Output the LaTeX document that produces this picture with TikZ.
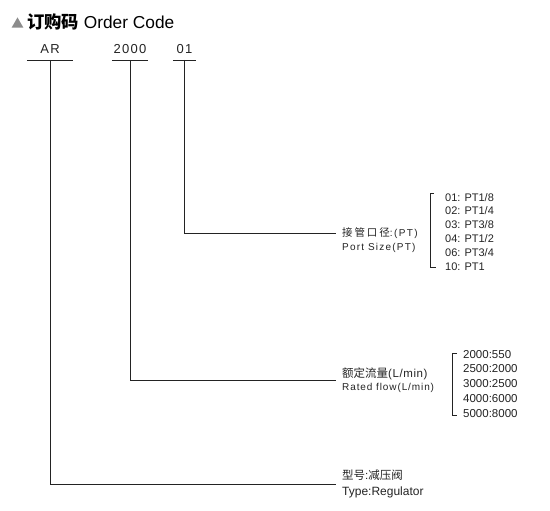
\documentclass[tikz,border=0pt]{standalone}
\usepackage{fontspec}
\setmainfont{Liberation Sans}
\newfontfamily\cjk{Noto Sans CJK SC}
\usetikzlibrary{shapes.geometric,calc}
\definecolor{ACText}{RGB}{35,35,35}
\definecolor{ACGray}{RGB}{140,140,140}
\newcommand\fs[2]{\fontsize{#1}{#2}\selectfont}
\newcommand\lsp[1]{\addfontfeature{LetterSpace=#1}}
\tikzset{
  code/.style={inner xsep=0pt,inner ysep=0pt,text depth=6pt,anchor=south,font=\fs{13}{15}\lsp{10},text=ACText},
  lbl/.style={inner xsep=6pt,inner ysep=0pt,anchor=west,align=left,text=ACText},
  lst/.style={inner sep=0pt,anchor=north west,align=left,text=ACText},
  ln/.style={line width=0.9pt,ACText},
  brk/.style={line width=0.9pt,ACText},
}
\begin{document}
\begin{tikzpicture}[x=1pt,y=-1pt]
  \useasboundingbox (0,0) rectangle (550,511);
  % title
  \node[regular polygon,regular polygon sides=3,fill=ACGray,minimum size=13.5pt,inner sep=0pt] (tri) at (17.5,24.2) {};
  \node[anchor=base west,inner sep=0pt,font=\fs{17.3}{20}] (ttl) at (27,28.5) {{\cjk\bfseries 订购码} Order Code};
  % code parts
  \node[code,minimum width=46pt] (car) at (50,60) {AR};
  \node[code,minimum width=36pt] (c2000) at (130,60) {2000};
  \node[code,minimum width=23pt] (c01) at (184.5,60) {01};
  \draw[ln] (car.south west) -- (car.south east);
  \draw[ln] (c2000.south west) -- (c2000.south east);
  \draw[ln] (c01.south west) -- (c01.south east);
  % labels
  \node[lbl,font=\fs{10}{14}] (ps) at (336,240)
    {{\fs{10.5}{14}\cjk\lsp{18}接管口径}{\lsp{14}:(PT)}\\{\lsp{12}Port Size(PT)}};
  \node[lbl,font=\fs{10}{13.5}] (fw) at (336,380)
    {{\fs{11.5}{13.5}{\cjk 额定流量}{\lsp{5}(L/min)}}\\{\lsp{9}Rated flow(L/min)}};
  \node[lbl,font=\fs{12}{16}] (ty) at (336,484)
    {{\fs{11.5}{16}{\cjk 型号}:{\cjk 减压阀}}\\Type:Regulator};
  % option lists
  \node[lst,font=\fs{11}{13.8}] (pl) at (445,193)
    {01: PT1/8\\02: PT1/4\\03: PT3/8\\04: PT1/2\\06: PT3/4\\10: PT1};
  \node[lst,font=\fs{11.5}{14.75}] (fl) at (463,350)
    {2000:550\\2500:2000\\3000:2500\\4000:6000\\5000:8000};
  \draw[brk] ([xshift=-11pt]pl.north west) -- ([xshift=-15pt]pl.north west)
    -- ([xshift=-15pt,yshift=3pt]pl.south west) -- ([xshift=-9pt,yshift=3pt]pl.south west);
  \draw[brk] ([xshift=-6pt,yshift=-3pt]fl.north west) -- ([xshift=-11pt,yshift=-3pt]fl.north west)
    -- ([xshift=-11pt,yshift=2pt]fl.south west) -- ([xshift=-6pt,yshift=2pt]fl.south west);
  % connectors
  \draw[ln] (c01.south) |- ([yshift=7pt]ps.west);
  \draw[ln] (c2000.south) |- (fw.west);
  \draw[ln] (car.south) |- (ty.west);
\end{tikzpicture}
\end{document}
